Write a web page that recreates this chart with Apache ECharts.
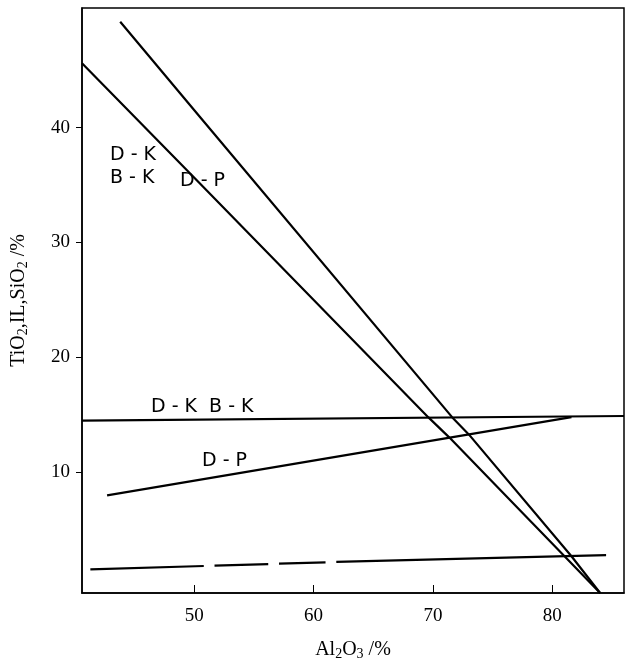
<!DOCTYPE html>
<html><head><meta charset="utf-8">
<script src="https://cdn.jsdelivr.net/npm/echarts@6/dist/echarts.min.js"></script>
<style>html,body{margin:0;padding:0;background:#fff}#c{width:630px;height:666px}</style>
</head><body><div id="c"></div>
<script>
const xTicks = [50, 60, 70, 80];
const yTicks = [10, 20, 30, 40];
const steepDK = [[40.6, 45.6], [50.5, 35.1], [69.6, 14.8], [71.4, 13.0], [84.0, -0.5]];
const steepDP = [[43.8, 49.2], [50.5, 40.9], [71.6, 14.8], [73.0, 13.3], [81.6, 2.7], [84.0, -0.5]];
const flatDK = [[40.6, 14.5], [86.0, 14.9]];
const riseDP = [[42.7, 8.0], [81.6, 14.8]];
const dashed = [[41.3, 1.55], [50.8, 1.85], null, [51.7, 1.88], [56.2, 2.02], null, [57.1, 2.05], [61.0, 2.17], null, [61.9, 2.2], [84.5, 2.8]];
const labels = [
  {text: 'D - K', x: 110, y: 146},
  {text: 'B - K', x: 110, y: 169},
  {text: 'D - P', x: 180, y: 172},
  {text: 'D - K  B - K', x: 151, y: 398},
  {text: 'D - P', x: 202, y: 452}
];
const chart = echarts.init(document.getElementById('c'));
const ln = (d) => ({type: 'line', data: d, symbol: 'none', connectNulls: false,
  lineStyle: {color: '#000', width: 2.2}, silent: true, z: 3});
chart.setOption({
  animation: false,
  grid: {left: 82, right: 6, top: 8, bottom: 69, show: true, borderColor: '#000', borderWidth: 1.5},
  xAxis: {type: 'value', min: 40.6, max: 86.0, interval: 10,
    axisLine: {onZero: false, lineStyle: {color: '#000', width: 1.5}},
    axisTick: {inside: true, length: 8, lineStyle: {color: '#000'}, customValues: xTicks},
    axisLabel: {customValues: xTicks, color: '#000', fontFamily: 'Liberation Serif', fontSize: 19, margin: 14},
    splitLine: {show: false},
    name: '{a|Al}{s|2}{a|O}{s|3}{a| /%}', nameLocation: 'middle', nameGap: 46,
    nameTextStyle: {rich: {a: {fontFamily: 'Liberation Serif', fontSize: 20, color: '#000'},
      s: {fontFamily: 'Liberation Serif', fontSize: 14, color: '#000', verticalAlign: 'bottom', padding: [8, 0, 0, 0]}}}
  },
  yAxis: {type: 'value', min: -0.5, max: 50.4,
    axisLine: {onZero: false, lineStyle: {color: '#000', width: 1.5}},
    axisTick: {length: 6, lineStyle: {color: '#000'}, customValues: yTicks},
    axisLabel: {customValues: yTicks, color: '#000', fontFamily: 'Liberation Serif', fontSize: 19, margin: 12},
    splitLine: {show: false},
    name: '{a|TiO}{s|2}{a|,IL,SiO}{s|2}{a| /%}', nameLocation: 'middle', nameGap: 52, nameRotate: 90,
    nameTextStyle: {rich: {a: {fontFamily: 'Liberation Serif', fontSize: 20, color: '#000'},
      s: {fontFamily: 'Liberation Serif', fontSize: 14, color: '#000', padding: [8, 0, 0, 0]}}}
  },
  series: [ln(steepDK), ln(steepDP), ln(flatDK), ln(riseDP), ln(dashed)],
  graphic: labels.map(l => ({type: 'text', left: l.x, top: l.y,
    style: {text: l.text, font: '19px "DejaVu Sans"', fill: '#000'}}))
});
</script></body></html>
